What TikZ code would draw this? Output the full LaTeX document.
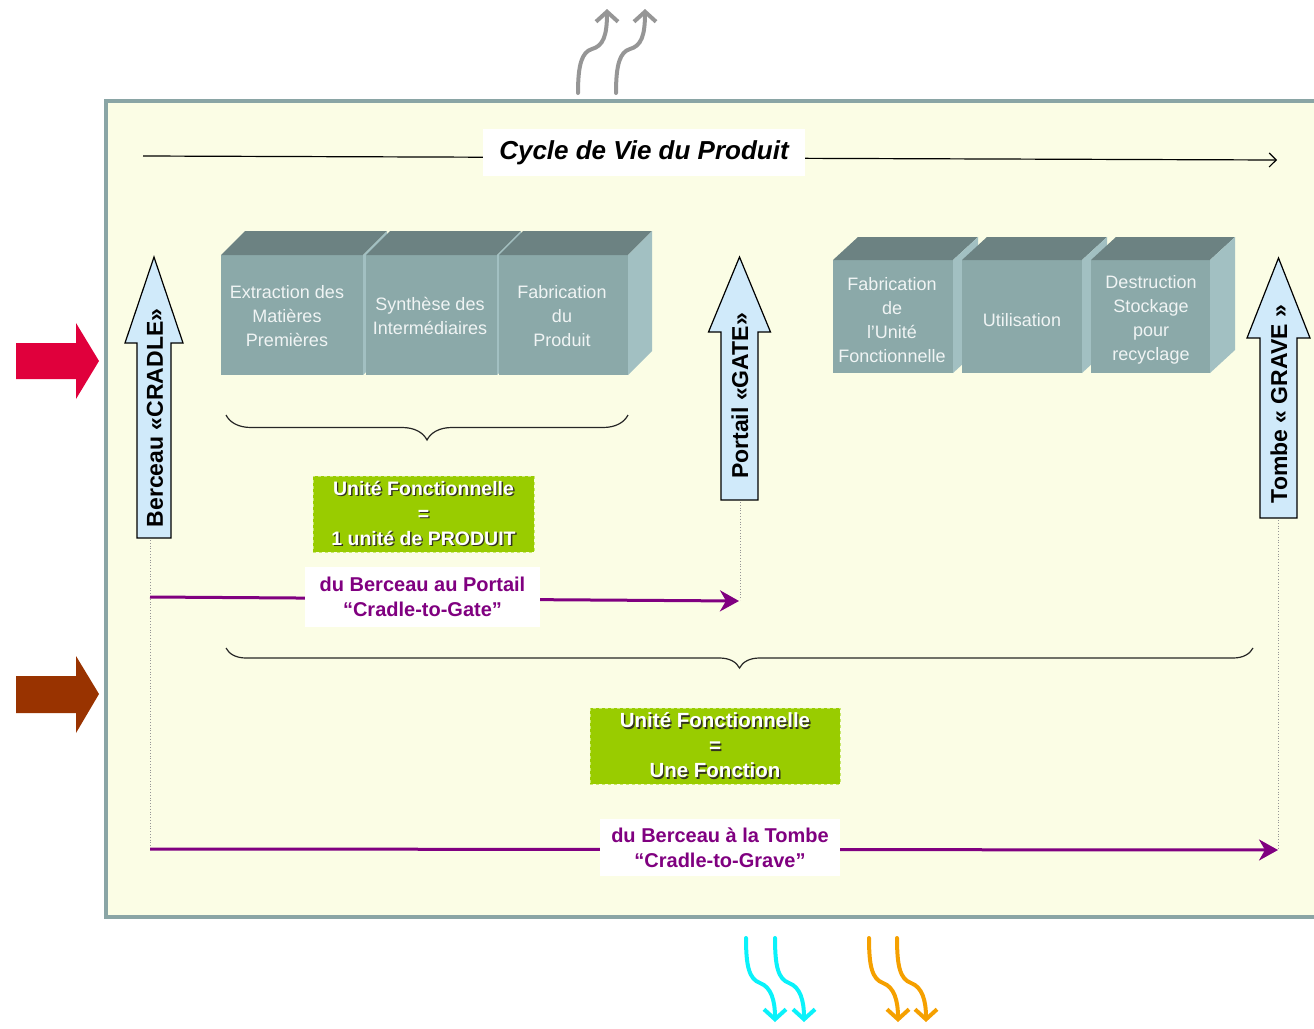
\documentclass[tikz,border=0pt]{standalone}
\usepackage{fontspec}
\setmainfont{Liberation Sans}
\usepackage{xcolor}
\usepackage{tikz}
\usetikzlibrary{arrows.meta, decorations.pathreplacing}
\definecolor{framegrey}{RGB}{138,165,165}
\definecolor{framefill}{RGB}{251,253,229}
\definecolor{cubefront}{RGB}{139,169,169}
\definecolor{cubetop}{RGB}{108,130,130}
\definecolor{cubeside}{RGB}{162,192,194}
\definecolor{stagetxt}{RGB}{240,244,244}
\definecolor{portalblue}{RGB}{208,234,250}
\definecolor{ufgreen}{RGB}{153,204,0}
\definecolor{ufdash}{RGB}{200,232,110}
\definecolor{ufshadow}{RGB}{50,50,30}
\definecolor{scopepurple}{RGB}{128,0,128}
\definecolor{inred}{RGB}{224,0,60}
\definecolor{inbrown}{RGB}{153,51,0}
\definecolor{emisgrey}{RGB}{150,150,150}
\definecolor{outcyan}{RGB}{10,242,250}
\definecolor{outorange}{RGB}{245,160,0}
\tikzset{
  stage/.style={text=stagetxt, font=\fontsize{18}{24}\selectfont,
    align=center, inner sep=0pt},
  portal/.style={draw=black, fill=portalblue, line width=1.2pt},
  portaltext/.style={rotate=90, font=\bfseries\fontsize{23}{26}\selectfont,
    inner sep=0pt},
  ufbox/.style={fill=ufgreen, draw=ufdash, dashed, line width=0.8pt,
    align=center, inner sep=0pt, font=\bfseries\fontsize{19.5}{25}\selectfont},
  scopebox/.style={fill=white, text=scopepurple, align=center, inner sep=0pt,
    font=\bfseries\fontsize{20}{25}\selectfont},
  scopearrow/.style={-{Stealth[length=19pt,width=21pt,inset=6pt]}, line width=3pt,
    color=scopepurple},
  guide/.style={draw=emisgrey, dotted, line width=0.8pt},
  lifebrace/.style={decorate, line width=1.2pt, color=black!85},
  flow/.style={line width=4pt, line cap=round,
    -{Straight Barb[length=10pt,width=22pt]}}
}
% front box x1 y1 x2 y2, depth dx dy
\newcommand\stagecube[6]{%
  \fill[cubefront] (#1,#2) rectangle (#3,#4);
  \fill[cubetop] (#1,#2) -- ++(#5,-#6) -- ({#3+#5},{#2-#6}) -- (#3,#2) -- cycle;
  \fill[cubeside] (#3,#2) -- ++(#5,-#6) -- ({#3+#5},{#4-#6}) -- (#3,#4) -- cycle;
}
% x, bottom, head base, tip, half shaft, half head
\newcommand\portalarrow[6]{%
  \draw[portal] ({#1-#5},#2) -- ({#1-#5},#3) -- ({#1-#6},#3) -- (#1,#4)
    -- ({#1+#6},#3) -- ({#1+#5},#3) -- ({#1+#5},#2) -- cycle;
}
\newcommand\ufline[1]{\leavevmode\rlap{\kern1.4pt\raisebox{-1.4pt}{\textcolor{ufshadow}{#1}}}\textcolor{white}{#1}}

\begin{document}
\begin{tikzpicture}[x=1pt, y=-1pt]
  \useasboundingbox (0,0) rectangle (1314,1028);

  % frame
  \draw[draw=framegrey, fill=framefill, line width=3.5pt] (106,101) rectangle (1340,917);

  % inputs
  \fill[inred] (16,343) -- (76,343) -- (76,323) -- (99,361) -- (76,399) -- (76,379) -- (16,379) -- cycle;
  \fill[inbrown] (16,676) -- (76,676) -- (76,656) -- (99,694) -- (76,733) -- (76,713) -- (16,713) -- cycle;

  % emissions and outputs
  \foreach \dx in {0,38}
    \draw[flow, emisgrey] ({578+\dx},93) .. controls ({578+\dx},64) and ({582+\dx},52) .. ({592+\dx},49)
      .. controls ({603+\dx},46) and ({607+\dx},36) .. ({607+\dx},9);
  \foreach \dx/\col in {0/outcyan, 29/outcyan, 123/outorange, 151/outorange}
    \draw[flow, \col] ({746+\dx},938) .. controls ({746+\dx},966) and ({749+\dx},979) .. ({760+\dx},983)
      .. controls ({771+\dx},987) and ({775+\dx},1000) .. ({775+\dx},1022);

  % life cycle axis
  \coordinate (lcstart) at (143,156);
  \coordinate (lcend) at (1277,160);
  \draw[line width=1.2pt, -{Straight Barb[length=7pt,width=14pt]}] (lcstart) -- (lcend);
  \node[fill=white, minimum width=322pt, minimum height=47pt, inner sep=0pt,
    font=\bfseries\itshape\fontsize{26}{30}\selectfont] (lifecycle) at (644,152.5) {Cycle de Vie du Produit};

  % stages
  \stagecube{221}{255}{363}{375}{24}{24}
  \stagecube{366}{255}{497}{375}{24}{24}
  \stagecube{499}{255}{628}{375}{24}{24}
  \stagecube{833}{260}{953}{373}{25}{23}
  \stagecube{962}{260}{1082}{373}{25}{23}
  \stagecube{1091}{260}{1210}{373}{25}{23}
  \node[stage] (extract) at (287,316) {Extraction des\\Matières\\Premières};
  \node[stage] (synth) at (430,316) {Synthèse des\\Intermédiaires};
  \node[stage] (fabprod) at (562,316) {Fabrication\\du\\Produit};
  \node[stage] (fabuf) at (892,320) {Fabrication\\de\\l’Unité\\Fonctionnelle};
  \node[stage] (usage) at (1022,320) {Utilisation};
  \node[stage] (destroy) at (1151,320) {Destruction\\Stockage\\pour\\recyclage};

  % boundaries
  \portalarrow{154}{538}{343}{257}{17}{29}
  \portalarrow{739.5}{500}{332}{257}{18.5}{31}
  \portalarrow{1278.5}{518}{338}{258}{18.5}{31.5}
  \node[portaltext] (cradle) at (155,418) {Berceau «CRADLE»};
  \node[portaltext] (gate) at (740,396) {Portail «GATE»};
  \node[portaltext] (grave) at (1279,404) {Tombe « GRAVE »};
  \coordinate (cradlefoot) at (150,540);
  \coordinate (cradleend) at (150,850);
  \coordinate (gatefoot) at (740,502);
  \coordinate (gateend) at (740,600);
  \coordinate (gravefoot) at (1278,520);
  \coordinate (graveend) at (1278,850);
  \draw[guide] (cradlefoot) -- (cradleend);
  \draw[guide] (gatefoot) -- (gateend);
  \draw[guide] (gravefoot) -- (graveend);

  % braces
  \draw[lifebrace, decoration={brace, mirror, amplitude=25pt}] (226,415) -- (628,415);
  \draw[lifebrace, decoration={brace, mirror, amplitude=20pt}] (226,648) -- (1253,648);

  % functional units
  \node[ufbox, minimum width=221pt, minimum height=76pt] (ufprod) at (423.5,514)
    {\ufline{Unité Fonctionnelle}\\\ufline{=}\\\ufline{1 unité de PRODUIT}};
  \node[ufbox, minimum width=250pt, minimum height=76pt,
    font=\bfseries\fontsize{20.5}{25}\selectfont] (uffunc) at (715,746)
    {\ufline{Unité Fonctionnelle}\\\ufline{=}\\\ufline{Une Fonction}};

  % scopes
  \coordinate (ctgstart) at (150,597);
  \coordinate (ctgend) at (739,601);
  \coordinate (ctgrstart) at (150,849);
  \coordinate (ctgrend) at (1278,850);
  \draw[scopearrow] (ctgstart) -- (ctgend);
  \draw[scopearrow] (ctgrstart) -- (ctgrend);
  \node[scopebox, minimum width=235pt, minimum height=60pt] (togate) at (422.5,597)
    {du Berceau au Portail\\“Cradle-to-Gate”};
  \node[scopebox, minimum width=240pt, minimum height=57pt] (tograve) at (720,847.5)
    {du Berceau à la Tombe\\“Cradle-to-Grave”};
\end{tikzpicture}
\end{document}
